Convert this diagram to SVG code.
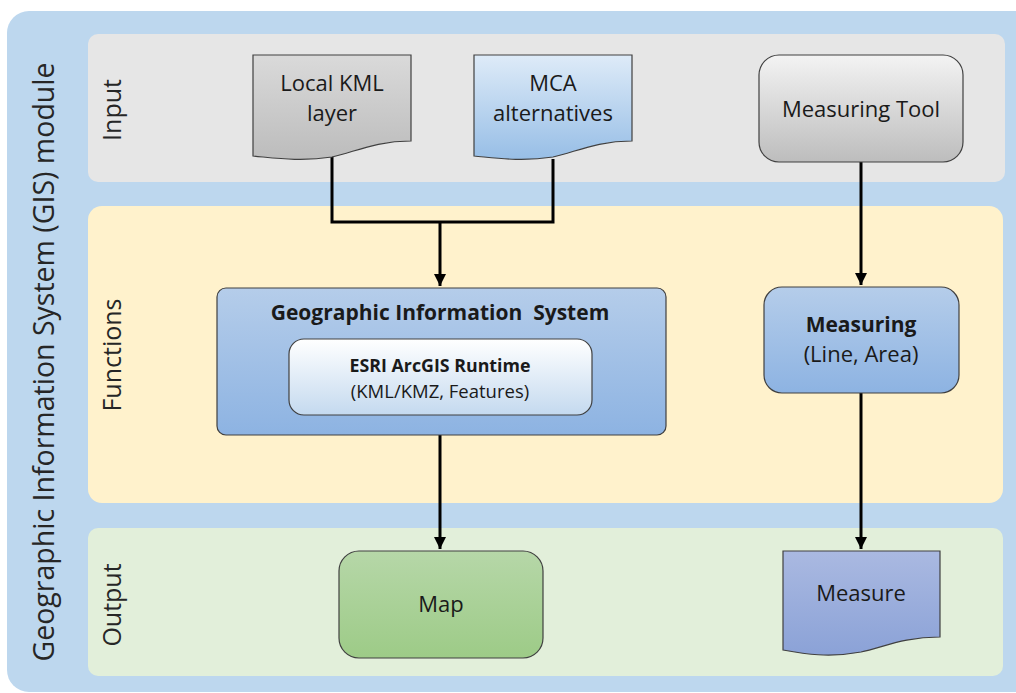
<svg xmlns="http://www.w3.org/2000/svg" width="1016" height="693" viewBox="0 0 1016 693">
<style>
.lbl{font-family:"Open Sans","Liberation Sans",sans-serif;font-size:22px;fill:#1a1a1a;text-anchor:middle}
.band{font-family:"Open Sans","Liberation Sans",sans-serif;font-size:25px;fill:#262626;text-anchor:middle}
.b{font-weight:bold}
.nd{stroke:#404040;stroke-width:1.2}
.conn{fill:none;stroke:#000;stroke-width:3}
</style>
<defs>
<linearGradient id="gGray" x1="0" y1="0" x2="0" y2="1"><stop offset="0" stop-color="#dadada"/><stop offset="1" stop-color="#bcbcbc"/></linearGradient>
<linearGradient id="gTool" x1="0" y1="0" x2="0" y2="1"><stop offset="0" stop-color="#f3f3f3"/><stop offset="1" stop-color="#bdbdbd"/></linearGradient>
<linearGradient id="gMca" x1="0" y1="0" x2="0" y2="1"><stop offset="0" stop-color="#deebf8"/><stop offset="1" stop-color="#97bee6"/></linearGradient>
<linearGradient id="gBlue" x1="0" y1="0" x2="0" y2="1"><stop offset="0" stop-color="#b5cdea"/><stop offset="1" stop-color="#8db3e2"/></linearGradient>
<linearGradient id="gInner" x1="0" y1="0" x2="0" y2="1"><stop offset="0" stop-color="#ffffff"/><stop offset="1" stop-color="#c4d9ef"/></linearGradient>
<linearGradient id="gGreen" x1="0" y1="0" x2="0" y2="1"><stop offset="0" stop-color="#b6d7a8"/><stop offset="1" stop-color="#9dcb87"/></linearGradient>
<linearGradient id="gPurp" x1="0" y1="0" x2="0" y2="1"><stop offset="0" stop-color="#aab9e1"/><stop offset="1" stop-color="#8ba2d7"/></linearGradient>
<marker id="arr" viewBox="0 0 10 10" refX="10" refY="5" markerWidth="4" markerHeight="4" orient="auto" markerUnits="strokeWidth"><path d="M0,0 L10,5 L0,10 z" fill="#000"/></marker>
</defs>

<g id="background">
<rect x="7" y="11" width="1030" height="681" rx="22" fill="#bdd7ee"/>
<rect x="88" y="34" width="917" height="148" rx="10" fill="#e6e6e6"/>
<rect x="88" y="206" width="915" height="297" rx="14" fill="#fff2cc"/>
<rect x="88" y="528" width="915" height="148" rx="10" fill="#e2efda"/>
<text class="band" style="font-size:28.5px" transform="translate(54,362) rotate(-90)">Geographic Information System (GIS) module</text>
<text class="band" transform="translate(121,110) rotate(-90)">Input</text>
<text class="band" transform="translate(121,355) rotate(-90)">Functions</text>
<text class="band" transform="translate(121,605) rotate(-90)">Output</text>
</g>

<g id="connectors">
<path class="conn" d="M332,156 V222 H553 V159"/>
<path class="conn" d="M440,222 V286" marker-end="url(#arr)"/>
<path class="conn" d="M861,162 V285" marker-end="url(#arr)"/>
<path class="conn" d="M440,435 V549" marker-end="url(#arr)"/>
<path class="conn" d="M861,393 V549" marker-end="url(#arr)"/>
</g>

<g id="local-kml">
<path class="nd" fill="url(#gGray)" d="M253,55 H411 V141 C375,141 355,152 332,157 C300,162 275,158 253,156 Z"/>
<text class="lbl" x="332" y="91">Local KML</text>
<text class="lbl" x="332" y="121">layer</text>
</g>

<g id="mca">
<path class="nd" fill="url(#gMca)" d="M474,55 H632 V141 C596,141 576,152 553,157 C521,162 496,158 474,156 Z"/>
<text class="lbl" x="553" y="91">MCA</text>
<text class="lbl" x="553" y="121">alternatives</text>
</g>

<g id="measuring-tool">
<rect class="nd" x="759" y="55" width="204" height="107" rx="20" fill="url(#gTool)"/>
<text class="lbl" x="861" y="117">Measuring Tool</text>
</g>

<g id="gis">
<rect class="nd" x="217" y="288" width="449" height="147" rx="9" fill="url(#gBlue)"/>
<text class="lbl b" style="font-size:21px;white-space:pre" x="440" y="320">Geographic Information  System</text>
</g>

<g id="esri">
<rect class="nd" x="289" y="339" width="303" height="76" rx="15" fill="url(#gInner)"/>
<text class="lbl b" style="font-size:17.8px" x="440" y="372">ESRI ArcGIS Runtime</text>
<text class="lbl" style="font-size:18.5px" x="440" y="398">(KML/KMZ, Features)</text>
</g>

<g id="measuring">
<rect class="nd" x="764" y="287" width="195" height="106" rx="18" fill="url(#gBlue)"/>
<text class="lbl b" style="font-size:21px" x="861" y="332">Measuring</text>
<text class="lbl" x="861" y="362">(Line, Area)</text>
</g>

<g id="map">
<rect class="nd" x="339" y="551" width="204" height="107" rx="20" fill="url(#gGreen)"/>
<text class="lbl" x="441" y="612">Map</text>
</g>

<g id="measure">
<path class="nd" fill="url(#gPurp)" d="M783,551 H940 V637 C904,637 884,647 861,652 C829,658 805,654 783,650 Z"/>
<text class="lbl" x="861" y="601">Measure</text>
</g>
</svg>
